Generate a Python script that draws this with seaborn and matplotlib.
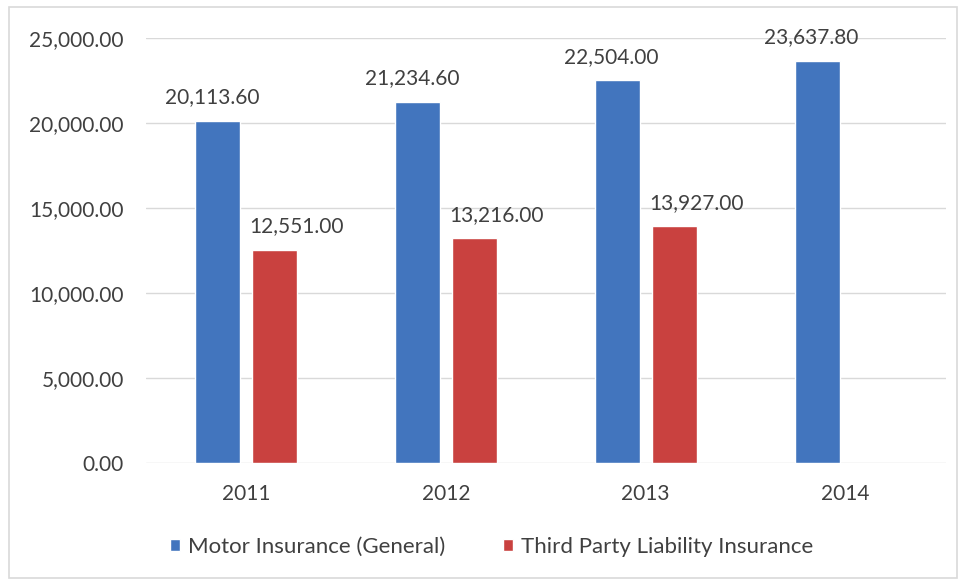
import numpy as np
import pandas as pd
import seaborn as sns
import matplotlib.pyplot as plt
from matplotlib.patches import Rectangle
from matplotlib.ticker import FuncFormatter

years = ["2011", "2012", "2013", "2014"]
motor = [20113.60, 21234.60, 22504.00, 23637.80]
third_party = [12551.00, 13216.00, 13927.00, np.nan]
series_names = ["Motor Insurance (General)", "Third Party Liability Insurance"]
y_ticks = [0, 5000, 10000, 15000, 20000, 25000]

df = pd.DataFrame({
    "Year": years * 2,
    "Value": motor + third_party,
    "Series": [series_names[0]] * len(years) + [series_names[1]] * len(years),
})

sns.set_theme(style="white")
plt.rcParams["font.family"] = ["Lato", "DejaVu Sans"]
text_color = "#404040"

fig = plt.figure(figsize=(9.6, 5.83), dpi=100)
ax = fig.add_axes([0.152, 0.2058, 0.833, 0.729])

palette = {series_names[0]: "#4275BE", series_names[1]: "#C9413F"}
sns.barplot(data=df, x="Year", y="Value", hue="Series", palette=palette,
            width=0.57, gap=0.21, saturation=1, ax=ax, legend=True, zorder=3)

ax.set_ylim(0, 25000)
ax.set_xlim(-0.5, 3.5)
ax.set_yticks(y_ticks)
ax.yaxis.set_major_formatter(FuncFormatter(lambda v, p: f"{v:,.2f}"))
ax.grid(axis="y", color="#D9D9D9", linewidth=1, zorder=0)
ax.grid(axis="x", visible=False)
for s in ax.spines.values():
    s.set_visible(False)
ax.tick_params(axis="y", length=0, pad=16, labelsize=15, labelcolor=text_color)
ax.tick_params(axis="x", length=0, pad=15, labelsize=15, labelcolor=text_color)
ax.set_xlabel("")
ax.set_ylabel("")

# value labels above each bar; the second series' labels sit a little to the right
label_shift = [-4, 16]
for container, dx in zip(ax.containers, label_shift):
    for bar, v in zip(container, container.datavalues):
        if np.isnan(v):
            continue
        ax.annotate(f"{v:,.2f}", (bar.get_x() + bar.get_width() / 2, v),
                    xytext=(dx, 17), textcoords="offset points",
                    ha="center", va="center", fontsize=15, color=text_color)

handles, labels = ax.get_legend_handles_labels()
ax.legend_.remove()
fig.legend(handles, labels, loc="center", bbox_to_anchor=(0.512, 0.062), ncol=2,
           frameon=False, fontsize=16, handlelength=0.45, handleheight=0.45,
           handletextpad=0.35, columnspacing=2.6, labelcolor=text_color)

fig.patches.append(Rectangle((0.009, 0.008), 0.988, 0.98, transform=fig.transFigure,
                             fill=False, edgecolor="#D9D9D9", linewidth=1.2))

fig.savefig("out.png", dpi=100)
